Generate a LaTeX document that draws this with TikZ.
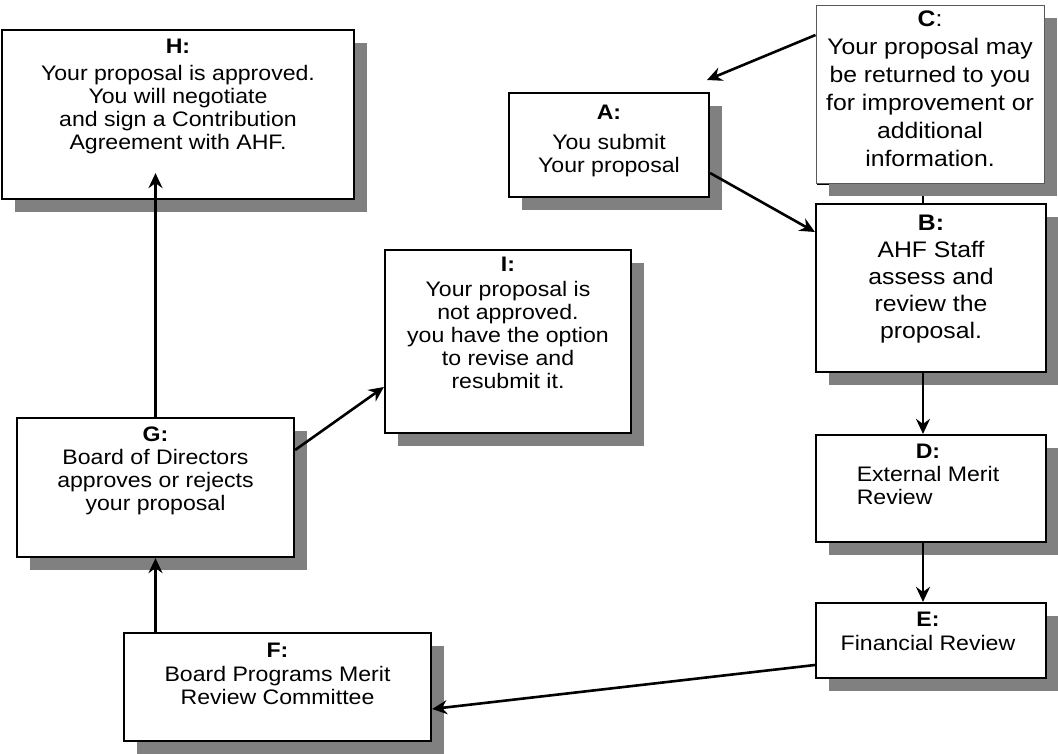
\documentclass[tikz,border=0pt]{standalone}
\usepackage{fontspec}
\setmainfont{Liberation Sans}[FakeStretch=1.1]
\usetikzlibrary{arrows.meta,shadows}
\pgfdeclarelayer{background}
\pgfsetlayers{background,main}
\definecolor{shadowgray}{RGB}{128,128,128}
\begin{document}
\begin{tikzpicture}[x=1pt,y=-1pt,
  shadowed/.style={drop shadow={shadow xshift=13pt,shadow yshift=-13pt,fill=shadowgray,opacity=1}},
  boxnode/.style={draw=black,line width=2.2pt,fill=white,inner sep=0pt,shadowed},
  thinbox/.style={draw=black!65,line width=1pt,fill=white,inner sep=0pt,shadowed},
  txt/.style={anchor=north,inner sep=0pt,align=center,font=\fontsize{21}{23}\selectfont},
  bigtxt/.style={txt,font=\fontsize{22.5}{27}\selectfont},
  conn/.style={line width=2.6pt,-{Stealth[length=15pt,width=14pt,inset=5pt]}},
  plainline/.style={line width=2.6pt}]
\useasboundingbox (0,0) rectangle (1058,753);

% boxes
\node[boxnode,minimum width=352pt,minimum height=169pt] (H) at (178,114.5) {};
\node[boxnode,minimum width=200pt,minimum height=104pt] (A) at (609,145) {};
\node[thinbox,minimum width=228pt,minimum height=178pt] (C) at (930,94) {};
\node[boxnode,minimum width=230pt,minimum height=168pt] (B) at (931,288) {};
\node[boxnode,minimum width=230pt,minimum height=107pt] (D) at (931,488.5) {};
\node[boxnode,minimum width=230pt,minimum height=75pt] (E) at (931,640.5) {};
\node[boxnode,minimum width=307pt,minimum height=108pt] (F) at (277.5,687) {};
\node[boxnode,minimum width=277pt,minimum height=139pt] (G) at (155.5,487.5) {};
\node[boxnode,minimum width=246pt,minimum height=183pt] (I) at (508,341.5) {};

% texts
\node[txt] (Ht) at ([yshift=-10pt]H.north) {\textbf{H:}\\[4pt]Your proposal is approved.\\You will negotiate\\and sign a Contribution\\Agreement with AHF.};
\node[txt] (At) at ([yshift=-13pt]A.north) {\textbf{A:}\\[7pt]You submit\\Your proposal};
\node[bigtxt] (Ct) at ([yshift=-6pt]C.north) {\textbf{C}:\\[1pt]Your proposal may\\[1pt]be returned to you\\[1pt]for improvement or\\[1pt]additional\\[1pt]information.};
\node[bigtxt] (Bt) at ([yshift=-12pt]B.north) {\textbf{B:}\\AHF Staff\\assess and\\review the\\proposal.};
\node[txt] (Dt) at ([xshift=-3pt,yshift=-10pt]D.north) {\textbf{D:}\\\begin{tabular}[t]{@{}l@{}}External Merit\\Review\end{tabular}};
\node[txt] (Et) at ([xshift=-3pt,yshift=-10pt]E.north) {\textbf{E:}\\[1pt]Financial Review};
\node[txt] (Ft) at ([yshift=-11pt]F.north) {\textbf{F:}\\[1pt]Board Programs Merit\\Review Committee};
\node[txt] (Gt) at ([yshift=-10pt]G.north) {\textbf{G:}\\Board of Directors\\approves or rejects\\your proposal};
\node[txt] (It) at ([yshift=-8pt]I.north) {\textbf{I:}\\[2pt]Your proposal is\\not approved.\\you have the option\\to revise and\\resubmit it.};

% free ends
\coordinate (CAtip) at (707,80);
\coordinate (Htip) at ([xshift=-22.5pt,yshift=27pt]H.south);

% background connector and corner behind C
\begin{pgfonlayer}{background}
  \draw[plainline] ([xshift=-7pt]C.south) -- ([xshift=-8pt]B.north);
  \draw[line width=1.8pt] (818,172) -- (818,184.5) -- (840,184.5);
\end{pgfonlayer}

% connectors
\draw[conn] ([yshift=59pt]C.west) -- (CAtip);
\draw[conn] ([yshift=-28pt]A.east) -- ([yshift=56pt]B.west);
\draw[conn] ([xshift=-8pt]B.south) -- ([xshift=-8pt]D.north);
\draw[conn] ([xshift=-8pt]D.south) -- ([xshift=-8pt]E.north);
\draw[conn] ([yshift=-24.5pt]E.west) -- ([yshift=-22pt]F.east);
\draw[conn] ([xshift=-122pt]F.north) -- (G.south);
\draw[conn] (G.north) -- (Htip);
\draw[conn] ([yshift=37.5pt]G.east) -- ([yshift=-45.5pt]I.west);
\end{tikzpicture}
\end{document}
